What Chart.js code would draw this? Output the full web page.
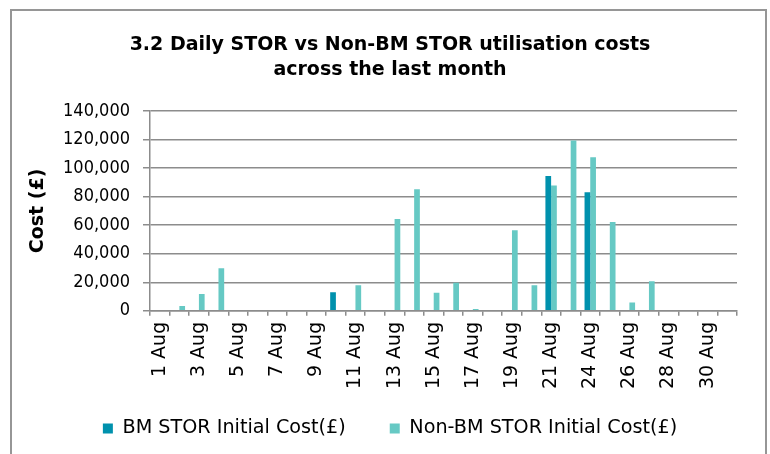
<!DOCTYPE html>
<html>
<head>
<meta charset="utf-8">
<script src="https://cdn.jsdelivr.net/npm/chart.js@4/dist/chart.umd.min.js"></script>
<style>
html,body{margin:0;padding:0;background:#fff;}
#wrap{width:770px;height:454px;position:relative;}
</style>
</head>
<body>
<div id="wrap"><canvas id="c" width="770" height="454"></canvas></div>
<script>
const categories = ['1 Aug','2 Aug','3 Aug','4 Aug','5 Aug','6 Aug','7 Aug','8 Aug','9 Aug','10 Aug',
  '11 Aug','12 Aug','13 Aug','14 Aug','15 Aug','16 Aug','17 Aug','18 Aug','19 Aug','20 Aug',
  '21 Aug','22 Aug','24 Aug','25 Aug','26 Aug','27 Aug','28 Aug','29 Aug','30 Aug','31 Aug'];
const bmStorCost = [0,0,0,0,0,0,0,0,0,13000,
  0,0,0,0,0,0,0,0,0,0,
  94600,0,83200,0,0,0,0,0,0,0];
const nonBmStorCost = [0,3400,11800,29800,0,0,0,0,0,0,
  18000,0,64300,85200,12600,19600,1200,0,56400,18000,
  87900,119500,107700,62200,5900,20800,0,0,0,0];
const yTicks = [0,20000,40000,60000,80000,100000,120000,140000];
const seriesNames = ['BM STOR Initial Cost(£)','Non-BM STOR Initial Cost(£)'];
const titleLines = ['3.2 Daily STOR vs Non-BM STOR utilisation costs','across the last month'];
const yTitle = 'Cost (£)';

const FONT = '"DejaVu Sans", sans-serif';
const FONT_NUM = '"DejaVu Sans Condensed", "DejaVu Sans", sans-serif';
const GRID = '#8c8c8c';

const borderPlugin = {
  id: 'outerBorder',
  beforeDraw(chart) {
    const ctx = chart.ctx;
    ctx.save();
    ctx.fillStyle = '#fff';
    ctx.fillRect(0, 0, chart.width, chart.height);
    ctx.strokeStyle = '#969696';
    ctx.lineWidth = 2;
    ctx.strokeRect(11, 10, 755, 480);
    ctx.restore();
  }
};

new Chart(document.getElementById('c'), {
  type: 'bar',
  data: {
    labels: categories,
    datasets: [
      { label: seriesNames[0], data: bmStorCost, backgroundColor: '#0091ad' },
      { label: seriesNames[1], data: nonBmStorCost, backgroundColor: '#66c9c4' }
    ]
  },
  options: {
    responsive: false,
    animation: false,
    devicePixelRatio: 1,
    layout: { padding: { left: 43, right: 33, top: 22, bottom: 6 } },
    datasets: { bar: { categoryPercentage: 0.583, barPercentage: 1.0 } },
    plugins: {
      title: {
        display: true,
        text: titleLines,
        color: '#000',
        font: { family: FONT, size: 19, weight: 'bold', lineHeight: 1.32 },
        padding: { top: 10.5, bottom: 28.5 }
      },
      legend: {
        position: 'bottom',
        labels: {
          color: '#000',
          font: { family: FONT, size: 19.2 },
          boxWidth: 10, boxHeight: 10,
          padding: 44
        }
      },
      tooltip: { enabled: false }
    },
    scales: {
      x: {
        afterFit(scale) {
          scale.height = 64;
          // let the rotated labels run past the (short) scale box, as in the original
          scale._computeLabelArea = function () { return undefined; };
        },
        grid: { drawOnChartArea: false, offset: true, color: GRID, lineWidth: 1.5, tickLength: 5 },
        border: { color: GRID, width: 1.5 },
        ticks: {
          autoSkip: false, minRotation: 90, maxRotation: 90,
          color: '#000', font: { family: FONT, size: 19 }, padding: 6,
          callback: function(v, i) { return i % 2 === 0 ? categories[i] : ''; }
        }
      },
      y: {
        min: 0, max: 140000,
        afterFit(scale) { scale.width = 107; },
        afterBuildTicks(scale) { scale.ticks = yTicks.map(v => ({ value: v })); },
        grid: { color: GRID, lineWidth: 1.5, tickLength: 7 },
        border: { color: GRID, width: 1.5 },
        ticks: {
          color: '#000', font: { family: FONT_NUM, size: 18 }, padding: 13,
          callback: v => v.toLocaleString('en-US')
        },
        title: {
          display: true, text: yTitle, color: '#000',
          font: { family: FONT, size: 19, weight: 'bold' },
          padding: { top: -16.4, bottom: 0 }
        }
      }
    }
  },
  plugins: [borderPlugin]
});
</script>
</body>
</html>
